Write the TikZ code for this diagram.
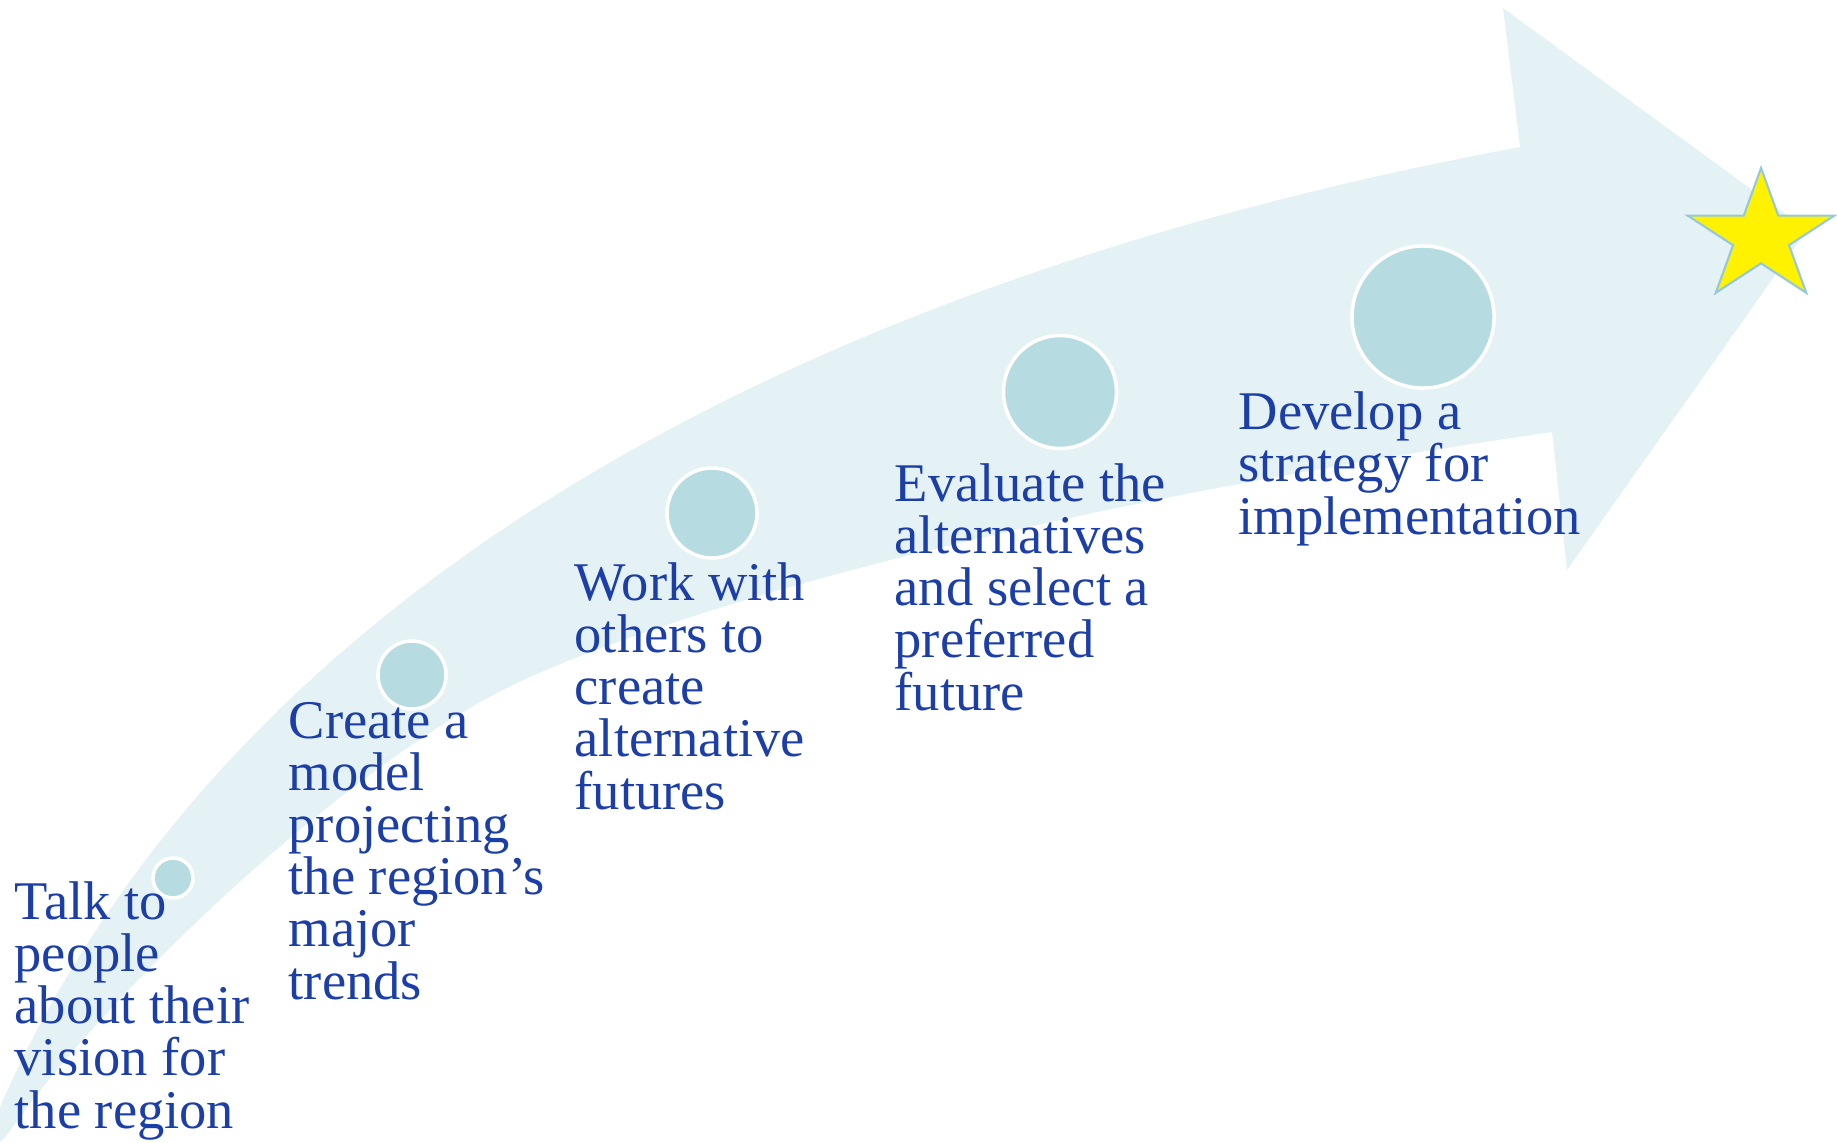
\documentclass[tikz,border=0pt]{standalone}
\usepackage{fontspec}
\setmainfont{Liberation Serif}
\definecolor{bandfill}{RGB}{229,242,245}
\definecolor{dotfill}{RGB}{182,220,225}
\definecolor{textblue}{RGB}{28,62,168}
\definecolor{starline}{RGB}{150,200,220}

\begin{document}
\begin{tikzpicture}[x=0.01cm,y=-0.01cm,
  band/.style={fill=bandfill},
  stage/.style={circle,fill=dotfill,draw=white,line width=1pt,inner sep=0pt},
  stagetext/.style={anchor=base west,align=left,inner sep=0pt,text=textblue,font=\fontsize{15.5}{14.8}\selectfont},
  goalstar/.style={fill=yellow,draw=starline,line width=0.6pt,line join=miter}
]
\useasboundingbox (0,0) rectangle (1837,1142);
\fill[band] (0,1107) .. controls (200,650) and (700,300) .. (1520,147)
  -- (1503,8) -- (1807,230) -- (1567,570) -- (1552,432)
  .. controls (1150,490) and (750,580) .. (530,677)
  .. controls (350,757) and (100,1000) .. (7,1135) -- (0,1142) -- cycle;
\node[stage,minimum size=0.40cm] (dot1) at (173,878) {};
\node[stage,minimum size=0.68cm] (dot2) at (412,675) {};
\node[stage,minimum size=0.90cm] (dot3) at (712,513) {};
\node[stage,minimum size=1.13cm] (dot4) at (1060,392) {};
\node[stage,minimum size=1.42cm] (dot5) at (1423,317) {};
\node[stagetext] (talk) at (14,1128) {Talk to\\people\\about their\\vision for\\the region};
\node[stagetext] (model) at (288,999) {Create a\\model\\projecting\\the region’s\\major\\trends};
\node[stagetext] (futures) at (574,809) {Work with\\others to\\create\\alternative\\futures};
\node[stagetext] (evaluate) at (894,710) {Evaluate the\\alternatives\\and select a\\preferred\\future};
\node[stagetext] (strategy) at (1238,534) {Develop a\\strategy for\\implementation};
\coordinate (goal) at (1761,237);
\draw[goalstar] (goal) ++(-90:77 and 69)
  \foreach \k in {1,...,9}{ -- ([shift={(goal)}] {-90+36*\k}:{77*(1-0.618*mod(\k,2))} and {69*(1-0.618*mod(\k,2))}) } -- cycle;
\end{tikzpicture}
\end{document}
